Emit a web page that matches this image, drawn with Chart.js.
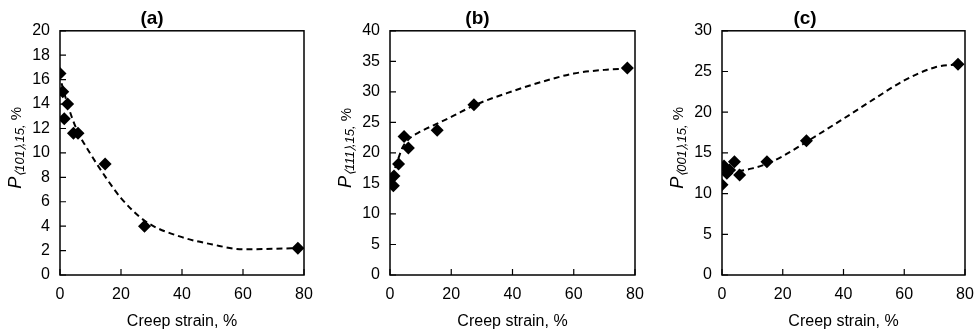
<!DOCTYPE html>
<html><head><meta charset="utf-8">
<script src="https://cdn.jsdelivr.net/npm/chart.js@4/dist/chart.umd.min.js"></script>
<style>
html,body{margin:0;padding:0;background:#fff;}
#wrap{position:relative;width:974px;height:331px;overflow:hidden;}
.pane{position:absolute;top:0;height:331px;}
</style></head>
<body><div id="wrap">
<div class="pane" style="left:0;width:320px"><canvas id="ca"></canvas></div>
<div class="pane" style="left:320px;width:330px"><canvas id="cb"></canvas></div>
<div class="pane" style="left:645px;width:329px"><canvas id="cc"></canvas></div>
</div>
<script>
// ---- data ----
const panelTitles = ['(a)', '(b)', '(c)'];
const xAxisTitle = 'Creep strain, %';
const yTitleMain = 'P';
const yTitleSubs = ['\u2329101\u232A,15,', '\u2329111\u232A,15,', '\u2329001\u232A,15,'];
const yTitleTail = ' %';

const strainA = [0, 0.9, 2.5, 1.4, 4.4, 5.9, 14.8, 27.7, 78];
const valuesA = [16.5, 15.0, 14.0, 12.8, 11.6, 11.6, 9.1, 4.0, 2.2];
const fitXA = [0.5, 2.7, 5.5, 9.8, 15, 20, 28, 40, 50, 60, 70, 78];
const fitYA = [15.7, 13.8, 11.9, 10.0, 8.0, 6.3, 4.4, 3.1, 2.5, 2.1, 2.15, 2.2];

const strainB = [0, 1.3, 1.1, 2.8, 4.6, 6.0, 15.4, 27.4, 77.5];
const valuesB = [15.7, 16.2, 14.6, 18.2, 22.7, 20.8, 23.7, 27.9, 33.9];
const fitXB = [0.5, 2, 4, 6, 10, 15, 20, 28, 40, 50, 60, 70, 78];
const fitYB = [16, 18, 20.8, 22.2, 23.5, 24.7, 25.9, 27.9, 30.1, 31.7, 33.0, 33.6, 33.8];

const strainC = [0, 0.65, 1.6, 2.5, 4.1, 5.8, 14.8, 27.8, 77.7];
const valuesC = [11.1, 13.4, 12.5, 12.9, 13.9, 12.3, 13.9, 16.5, 25.9];
const fitXC = [2, 5, 10, 15, 20, 28, 40, 50, 60, 70, 78];
const fitYC = [12.8, 12.8, 13.1, 13.7, 14.6, 16.4, 19.2, 21.6, 23.9, 25.5, 25.9];

const xTickValues = [0, 20, 40, 60, 80];
const yMaxes = [20, 40, 30];
const ySteps = [2, 5, 5];

// ---- drawing ----
const FONT = "'Liberation Sans', Arial, sans-serif";
const pts = (xs, ys) => xs.map((x, i) => ({x: x, y: ys[i]}));

const framePlugin = {
  id: 'frame',
  afterDraw(chart, args, opts) {
    const ctx = chart.ctx, a = chart.chartArea;
    const xs = chart.scales.x, ys = chart.scales.y;
    ctx.save();
    ctx.strokeStyle = '#000';
    ctx.lineWidth = 1.5;
    ctx.strokeRect(a.left, a.top, a.right - a.left, a.bottom - a.top);
    ctx.lineWidth = 1.2;
    ctx.beginPath();
    ys.ticks.forEach(t => {
      const y = ys.getPixelForValue(t.value);
      ctx.moveTo(a.left, y); ctx.lineTo(a.left + 6, y);
    });
    xs.ticks.forEach(t => {
      const x = xs.getPixelForValue(t.value);
      ctx.moveTo(x, a.bottom); ctx.lineTo(x, a.bottom - 6);
    });
    ctx.stroke();
    // rotated y-axis title
    const cy = (a.top + a.bottom) / 2 - 5;
    const cx = a.left - 45;
    const fMain = 'italic 18px ' + FONT, fSub = 'italic 13px ' + FONT, fTail = '15px ' + FONT;
    ctx.font = fMain; const w1 = ctx.measureText(yTitleMain).width;
    ctx.font = fSub; const w2 = ctx.measureText(opts.sub).width;
    ctx.font = fTail; const w3 = ctx.measureText(yTitleTail).width;
    const total = w1 + w2 + w3 + 1;
    ctx.translate(cx, cy);
    ctx.rotate(-Math.PI / 2);
    ctx.fillStyle = '#000';
    ctx.textBaseline = 'alphabetic';
    ctx.textAlign = 'left';
    let px = -total / 2;
    const base = 6;
    ctx.font = fMain; ctx.fillText(yTitleMain, px, base); px += w1 + 1;
    ctx.font = fSub; ctx.fillText(opts.sub, px, base + 3); px += w2;
    ctx.font = fTail; ctx.fillText(yTitleTail, px, base);
    ctx.restore();
  }
};

function makeChart(id, idx, xs, ys, fx, fy, leftOff, rightPad) {
  new Chart(document.getElementById(id), {
    data: {
      datasets: [
        {type: 'scatter', data: pts(xs, ys), pointStyle: 'rectRot', pointRadius: 6.5,
         backgroundColor: '#000', borderColor: '#000', borderWidth: 0},
        {type: 'line', data: pts(fx, fy), borderColor: '#000', borderWidth: 2,
         borderDash: [6, 4], pointRadius: 0, fill: false, tension: 0.4,
         cubicInterpolationMode: 'monotone'}
      ]
    },
    options: {
      responsive: true, maintainAspectRatio: false, animation: false,
      layout: {padding: {left: 0, right: rightPad, top: 0, bottom: 0}},
      plugins: {
        legend: {display: false}, tooltip: {enabled: false},
        title: {display: true, text: panelTitles[idx], color: '#000',
                font: {family: FONT, size: 19, weight: 'bold'}, padding: {top: 7, bottom: 1}},
        frame: {sub: yTitleSubs[idx]}
      },
      scales: {
        x: {type: 'linear', min: 0, max: 80,
            afterBuildTicks: s => { s.ticks = xTickValues.map(v => ({value: v})); },
            grid: {display: false, drawTicks: false}, border: {display: false},
            ticks: {color: '#000', font: {family: FONT, size: 16}, padding: 10, maxRotation: 0},
            title: {display: true, text: xAxisTitle, color: '#000', font: {family: FONT, size: 16}, padding: {top: 0, bottom: 0}},
            afterFit: s => { s.height = 56; s.paddingLeft = 0; s.paddingRight = 0; }
        },
        y: {type: 'linear', min: 0, max: yMaxes[idx],
            ticks: {stepSize: ySteps[idx], color: '#000', font: {family: FONT, size: 16}, padding: 10},
            grid: {display: false, drawTicks: false}, border: {display: false},
            afterFit: s => { s.width = leftOff; s.paddingTop = 0; s.paddingBottom = 0; }
        }
      }
    },
    plugins: [framePlugin]
  });
}

makeChart('ca', 0, strainA, valuesA, fitXA, fitYA, 60, 16);
makeChart('cb', 1, strainB, valuesB, fitXB, fitYB, 70, 15);
makeChart('cc', 2, strainC, valuesC, fitXC, fitYC, 77, 9);
</script>
</body></html>
